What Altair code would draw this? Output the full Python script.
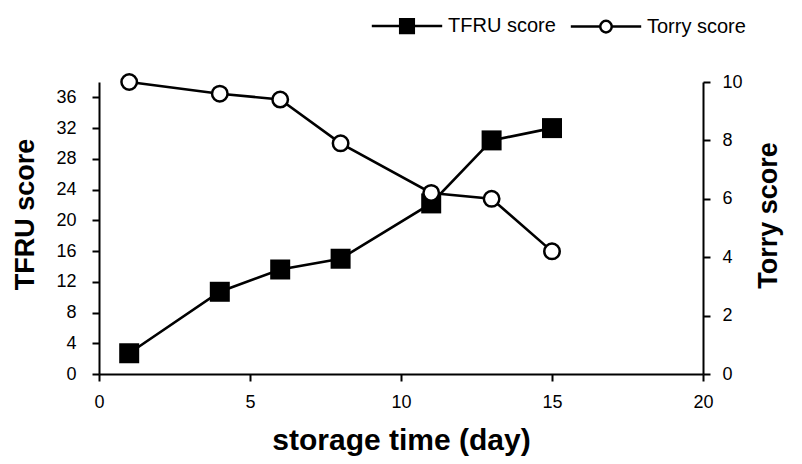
import altair as alt
import pandas as pd

# ---- data ----
days = [1, 4, 6, 8, 11, 13, 15]
tfru_score = [2.7, 10.7, 13.6, 15.0, 22.2, 30.4, 32.0]
torry_score = [10.0, 9.6, 9.4, 7.9, 6.2, 6.0, 4.2]
series_names = ["TFRU score", "Torry score"]
x_ticks = [0, 5, 10, 15, 20]
tfru_ticks = [0, 4, 8, 12, 16, 20, 24, 28, 32, 36]
torry_ticks = [0, 2, 4, 6, 8, 10]

df = pd.DataFrame({"day": days, "tfru": tfru_score, "torry": torry_score})
legend_df = pd.DataFrame({"series": series_names, "day": [days[0], days[0]], "tfru": [tfru_score[0], tfru_score[0]]})

FONT = "Liberation Sans"

# legend symbols: a line with the marker in the middle (unit = sqrt(size)/2 px)
sym_tfru = "M-4.4,0H4.4M-0.85,-0.85H0.85V0.85H-0.85Z"
sym_torry = ("M-4.4,0H-0.72M0.72,0H4.4"
             "M-0.72,0A0.72,0.72,0,1,0,0.72,0A0.72,0.72,0,1,0,-0.72,0Z")

x_enc = alt.X(
    "day:Q",
    scale=alt.Scale(domain=[0, 20], nice=False, zero=False),
    axis=alt.Axis(
        values=x_ticks, title="storage time (day)", grid=False,
        titleY=66, titleBaseline="middle", labelPadding=12, titleFontSize=30,
        labelFlush=False, labelOverlap=False,
    ),
)

y_left = alt.Y(
    "tfru:Q",
    scale=alt.Scale(domain=[0, 38], nice=False),
    axis=alt.Axis(
        values=tfru_ticks, title="TFRU score", grid=False, orient="left",
        titleAngle=270, titleX=-74, titleY=132, titleAlign="center",
        titleBaseline="middle", labelPadding=16, labelFlush=False, labelOverlap=False,
    ),
)

y_right = alt.Y(
    "torry:Q",
    scale=alt.Scale(domain=[0, 10], nice=False),
    axis=alt.Axis(
        values=torry_ticks, title="Torry score", grid=False, orient="right",
        titleAngle=270, titleX=65, titleY=133, titleAlign="center",
        titleBaseline="middle", labelPadding=12, labelFlush=False, labelOverlap=False,
    ),
)

base = alt.Chart(df)

tfru_line = base.mark_line(color="black", strokeWidth=2.6).encode(x=x_enc, y=y_left)
tfru_pts = base.mark_point(shape="square", filled=True, color="black", size=400, opacity=1).encode(x=x_enc, y=y_left)

legend = alt.Legend(
    title=None, orient="none", legendX=298, legendY=-66, direction="horizontal",
    labelFont=FONT, labelFontSize=20, labelColor="black", labelOffset=31,
    columnPadding=9, symbolSize=256, symbolStrokeWidth=2.5,
    symbolOpacity=1, padding=0,
)

legend_layer = alt.Chart(legend_df).mark_point(
    filled=True, opacity=0, stroke="black", strokeWidth=2.5
).encode(
    x=x_enc,
    y=y_left,
    shape=alt.Shape("series:N", scale=alt.Scale(domain=series_names, range=[sym_tfru, sym_torry]), legend=legend),
    fill=alt.Fill("series:N", scale=alt.Scale(domain=series_names, range=["black", "white"]), legend=legend),
)

torry_line = base.mark_line(color="black", strokeWidth=2.6).encode(x=x_enc, y=y_right)
torry_pts = base.mark_point(shape="circle", filled=True, fill="white", stroke="black",
                            strokeWidth=2.5, size=240, opacity=1).encode(x=x_enc, y=y_right)

left = alt.layer(tfru_line, tfru_pts, legend_layer)
right = alt.layer(torry_line, torry_pts)

chart = (
    alt.layer(left, right)
    .resolve_scale(y="independent")
    .properties(
        width=604, height=292,
        autosize=alt.AutoSizeParams(type="none"),
        padding={"left": 99, "top": 82, "right": 99, "bottom": 90},
        background="white",
    )
    .configure_view(stroke="transparent")
    .configure_axis(
        labelFont=FONT, labelFontSize=18, labelColor="black",
        titleFont=FONT, titleFontSize=27, titleFontWeight="bold", titleColor="black",
        domainColor="black", domainWidth=2, tickColor="black", tickWidth=2, tickSize=7,
    )
)

chart.save("out.html", embed_options={"renderer": "svg", "actions": False})
